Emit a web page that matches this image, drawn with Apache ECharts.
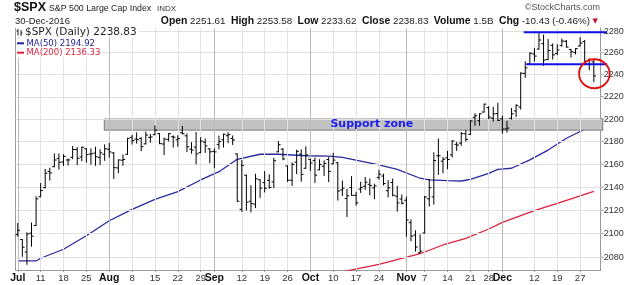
<!DOCTYPE html>
<html><head><meta charset="utf-8">
<script src="https://cdn.jsdelivr.net/npm/echarts@6/dist/echarts.min.js"></script>
<style>html,body{margin:0;padding:0;background:#fff}#c{width:640px;height:285px}</style>
</head><body><div id="c"></div>
<script>
// ---- data ----
const dates = [
'2016-07-01','2016-07-05','2016-07-06','2016-07-07','2016-07-08','2016-07-11','2016-07-12','2016-07-13','2016-07-14','2016-07-15','2016-07-18','2016-07-19','2016-07-20','2016-07-21','2016-07-22','2016-07-25','2016-07-26','2016-07-27','2016-07-28','2016-07-29',
'2016-08-01','2016-08-02','2016-08-03','2016-08-04','2016-08-05','2016-08-08','2016-08-09','2016-08-10','2016-08-11','2016-08-12','2016-08-15','2016-08-16','2016-08-17','2016-08-18','2016-08-19','2016-08-22','2016-08-23','2016-08-24','2016-08-25','2016-08-26','2016-08-29','2016-08-30','2016-08-31',
'2016-09-01','2016-09-02','2016-09-06','2016-09-07','2016-09-08','2016-09-09','2016-09-12','2016-09-13','2016-09-14','2016-09-15','2016-09-16','2016-09-19','2016-09-20','2016-09-21','2016-09-22','2016-09-23','2016-09-26','2016-09-27','2016-09-28','2016-09-29','2016-09-30',
'2016-10-03','2016-10-04','2016-10-05','2016-10-06','2016-10-07','2016-10-10','2016-10-11','2016-10-12','2016-10-13','2016-10-14','2016-10-17','2016-10-18','2016-10-19','2016-10-20','2016-10-21','2016-10-24','2016-10-25','2016-10-26','2016-10-27','2016-10-28','2016-10-31',
'2016-11-01','2016-11-02','2016-11-03','2016-11-04','2016-11-07','2016-11-08','2016-11-09','2016-11-10','2016-11-11','2016-11-14','2016-11-15','2016-11-16','2016-11-17','2016-11-18','2016-11-21','2016-11-22','2016-11-23','2016-11-25','2016-11-28','2016-11-29','2016-11-30',
'2016-12-01','2016-12-02','2016-12-05','2016-12-06','2016-12-07','2016-12-08','2016-12-09','2016-12-12','2016-12-13','2016-12-14','2016-12-15','2016-12-16','2016-12-19','2016-12-20','2016-12-21','2016-12-22','2016-12-23','2016-12-27','2016-12-28','2016-12-29','2016-12-30'];

const open = [
2099.34,2095.05,2084.43,2100.42,2106.97,2131.72,2139.50,2153.81,2157.88,2165.13,2162.04,2163.79,2166.10,2172.91,2166.47,2173.71,2168.97,2169.81,2166.05,2168.83,
2173.15,2169.94,2156.81,2163.51,2168.79,2183.76,2182.24,2182.81,2177.97,2183.74,2186.08,2187.02,2177.84,2181.90,2184.24,2181.58,2187.81,2185.09,2173.29,2175.10,2170.19,2179.45,2173.56,
2171.33,2177.49,2181.61,2185.17,2182.76,2169.08,2120.86,2150.47,2127.86,2125.36,2146.48,2143.99,2145.94,2144.58,2170.94,2173.29,2158.54,2146.04,2161.85,2168.90,2156.51,
2164.33,2163.37,2155.15,2158.22,2164.19,2160.39,2161.35,2137.67,2130.26,2139.68,2132.95,2138.31,2140.81,2142.51,2139.43,2148.50,2149.72,2136.97,2144.06,2132.23,2129.78,
2128.68,2109.43,2098.80,2083.79,2100.59,2129.92,2131.56,2167.49,2162.71,2165.64,2168.29,2177.53,2178.61,2186.85,2186.43,2201.56,2198.55,2206.27,2210.21,2200.76,2204.97,
2200.17,2191.12,2200.65,2207.26,2210.72,2241.13,2249.73,2258.83,2263.32,2268.35,2253.77,2266.81,2259.24,2266.50,2270.54,2262.93,2260.25,2266.23,2270.23,2249.50,2251.61];

const high = [
2108.71,2095.05,2100.72,2109.08,2131.71,2143.16,2155.40,2156.45,2168.99,2169.05,2168.35,2164.63,2175.63,2174.56,2175.11,2173.71,2173.54,2174.98,2172.85,2177.09,
2178.29,2170.20,2163.79,2168.19,2182.87,2185.44,2187.66,2183.41,2188.45,2186.28,2193.81,2187.02,2183.08,2187.03,2185.00,2185.15,2193.42,2186.66,2179.00,2187.94,2183.48,2182.27,2173.79,
2173.56,2184.87,2186.57,2187.87,2184.94,2169.08,2163.30,2150.47,2141.33,2151.31,2146.48,2153.61,2150.80,2165.11,2179.99,2173.75,2158.54,2161.13,2172.40,2172.67,2175.30,
2164.33,2165.46,2163.95,2162.93,2165.86,2169.60,2161.56,2145.36,2138.19,2149.19,2135.61,2144.38,2148.44,2147.18,2142.63,2154.79,2151.44,2145.73,2147.13,2140.72,2133.25,
2131.45,2111.76,2102.56,2099.07,2132.00,2146.87,2170.10,2182.30,2165.92,2171.36,2180.84,2179.22,2188.06,2189.89,2198.70,2204.80,2204.72,2213.35,2211.14,2210.46,2214.10,
2202.60,2197.95,2209.42,2212.78,2241.63,2251.69,2259.80,2264.03,2277.53,2276.20,2272.12,2268.05,2267.47,2272.56,2271.23,2263.18,2263.79,2273.82,2271.31,2254.51,2253.58];

const low = [
2097.90,2080.86,2074.02,2089.39,2106.97,2131.72,2139.50,2146.21,2157.88,2155.79,2159.07,2159.40,2164.89,2159.75,2163.24,2161.95,2160.18,2159.07,2159.74,2163.49,
2166.21,2147.58,2152.56,2159.07,2168.79,2177.85,2178.61,2172.00,2177.97,2179.42,2186.08,2178.15,2168.50,2180.46,2175.13,2175.96,2186.80,2171.25,2169.74,2160.39,2170.19,2170.41,2161.35,
2157.09,2173.59,2175.10,2179.07,2177.49,2127.81,2119.12,2120.27,2118.62,2122.36,2131.20,2135.91,2139.17,2139.57,2170.94,2163.97,2145.04,2141.55,2151.79,2145.20,2156.51,
2154.77,2144.01,2155.15,2150.28,2144.85,2160.39,2128.84,2132.77,2114.72,2132.98,2124.43,2135.49,2138.15,2133.44,2130.09,2146.91,2141.93,2131.59,2132.52,2119.36,2125.53,
2097.85,2094.00,2085.23,2083.79,2100.59,2123.56,2125.35,2151.17,2152.49,2156.08,2166.38,2172.20,2176.65,2180.38,2186.43,2194.51,2194.51,2206.27,2200.36,2198.15,2198.81,
2187.44,2188.37,2199.97,2202.21,2208.93,2237.57,2249.23,2252.37,2263.32,2248.44,2253.77,2254.24,2258.21,2266.14,2265.15,2256.08,2258.84,2266.15,2249.11,2244.56,2233.62];

const close = [
2102.95,2088.55,2099.73,2097.90,2129.90,2137.16,2152.14,2152.43,2163.75,2161.74,2166.89,2163.78,2173.02,2165.17,2175.03,2168.48,2169.18,2166.58,2170.06,2173.60,
2170.84,2157.03,2163.79,2164.25,2182.87,2180.89,2181.74,2175.49,2185.79,2184.05,2190.15,2178.15,2182.22,2187.02,2183.87,2182.64,2186.90,2175.44,2172.47,2169.04,2180.38,2176.12,2170.95,
2170.86,2179.98,2186.48,2186.16,2181.30,2127.81,2159.04,2127.02,2125.77,2147.26,2139.16,2139.12,2139.76,2163.12,2177.18,2164.69,2146.10,2159.93,2171.37,2151.13,2168.27,
2161.20,2150.49,2159.73,2160.77,2153.74,2163.66,2136.73,2139.18,2132.55,2132.98,2126.50,2139.60,2144.29,2141.34,2141.16,2151.33,2143.16,2139.43,2133.04,2126.41,2126.15,
2111.72,2097.94,2088.66,2085.18,2131.52,2139.56,2163.26,2167.48,2164.45,2164.20,2180.39,2176.94,2187.12,2181.90,2198.18,2202.94,2204.72,2213.35,2201.72,2204.66,2198.81,
2191.08,2191.95,2204.71,2212.23,2241.35,2246.19,2259.53,2256.96,2271.72,2253.28,2262.03,2258.07,2262.53,2270.76,2265.18,2260.96,2263.79,2268.88,2249.92,2249.26,2238.83];

const ma50Dates  = ['2016-07-01','2016-07-08','2016-07-11','2016-07-18','2016-07-25','2016-08-01','2016-08-08','2016-08-15','2016-08-22','2016-08-29','2016-09-02','2016-09-09','2016-09-16','2016-09-22','2016-09-30','2016-10-07','2016-10-12','2016-10-24','2016-10-28','2016-11-04','2016-11-08','2016-11-14','2016-11-17','2016-11-21','2016-11-28','2016-11-30','2016-12-05','2016-12-09','2016-12-15','2016-12-21','2016-12-30'];
const ma50Values = [2076.9,2076.9,2079.2,2086.8,2098.3,2111.1,2120.9,2129.5,2136.1,2146.3,2153.5,2164.4,2168.8,2168.8,2167.5,2167.2,2166.1,2159.4,2155.6,2147.8,2146.3,2145.7,2145.4,2146.9,2152.1,2155.6,2156.5,2163.8,2172.5,2182.9,2194.92];
const ma200Dates  = ['2016-10-12','2016-10-24','2016-10-31','2016-11-04','2016-11-11','2016-11-18','2016-11-28','2016-12-01','2016-12-12','2016-12-19','2016-12-30'];
const ma200Values = [2067.8,2074.1,2079.0,2083.0,2090.4,2096.1,2104.0,2109.7,2119.7,2126.1,2136.33];

const tickDates  = ['2016-07-01','2016-07-11','2016-07-18','2016-07-25','2016-08-01','2016-08-08','2016-08-15','2016-08-22','2016-08-29','2016-09-01','2016-09-12','2016-09-19','2016-09-26','2016-10-03','2016-10-10','2016-10-17','2016-10-24','2016-11-01','2016-11-07','2016-11-14','2016-11-21','2016-11-28','2016-12-01','2016-12-12','2016-12-19','2016-12-27'];
const tickLabels = ['Jul','11','18','25','Aug','8','15','22','29','Sep','12','19','26','Oct','10','17','24','Nov','7','14','21','28','Dec','12','19','27'];
const yTicks = [2080,2100,2120,2140,2160,2180,2200,2220,2240,2260,2280];

const supportZone = [2190.2, 2200];
const rangeTop = 2278.8, rangeBottom = 2249.4;
const circleDate = '2016-12-30', circleValue = 2240.8;

// ---- chart ----
const yMin = 2069.3, yMax = 2282.8;
const cats = dates.concat(['']);
const tickMap = {}; tickDates.forEach((d,i)=>{tickMap[d]=tickLabels[i];});
const isMonth = l => isNaN(+l);
const showTick = (i, v) => Object.prototype.hasOwnProperty.call(tickMap, v);
const ohlc = dates.map((d,i)=>[i, open[i], close[i], low[i], high[i]]);
const ma50 = ma50Dates.map((d,i)=>[d, ma50Values[i]]);
const ma200 = ma200Dates.map((d,i)=>[d, ma200Values[i]]);
const FONT = '"Liberation Sans", Arial, sans-serif';
const VFONT = '"DejaVu Sans", Verdana, sans-serif';

function renderOHLC(params, api){
  const x = api.value(0);
  const o = api.coord([x, api.value(1)]);
  const c = api.coord([x, api.value(2)]);
  const l = api.coord([x, api.value(3)]);
  const h = api.coord([x, api.value(4)]);
  const t = 2.2;
  const st = {stroke:'#000', lineWidth:1};
  return {type:'group', children:[
    {type:'line', shape:{x1:h[0], y1:h[1]-0.5, x2:l[0], y2:l[1]+0.5}, style:st},
    {type:'line', shape:{x1:o[0]-t, y1:o[1], x2:o[0], y2:o[1]}, style:st},
    {type:'line', shape:{x1:c[0], y1:c[1], x2:c[0]+t, y2:c[1]}, style:st}
  ]};
}

const chart = echarts.init(document.getElementById('c'), null, {renderer:'canvas'});
const gridLeft = 15.5, gridRight = 39.3, gridTop = 28, gridBottom = 15;
chart.setOption({
  animation:false,
  grid:{left:gridLeft, right:gridRight, top:gridTop, bottom:gridBottom},
  xAxis:{type:'category', data:cats, boundaryGap:true,
    axisLine:{show:true, lineStyle:{color:'#999'}},
    axisTick:{show:true, alignWithLabel:true, interval:showTick, length:2, lineStyle:{color:'#999'}},
    axisLabel:{interval:showTick, margin:3, hideOverlap:false,
      formatter: v => isMonth(tickMap[v]) ? '{m|'+tickMap[v]+'}' : '{d|'+tickMap[v]+'}',
      rich:{m:{fontWeight:'bold', fontSize:10.5, color:'#111', fontFamily:FONT},
            d:{fontSize:9.5, color:'#333', fontFamily:FONT}}},
    splitLine:{show:false}},
  yAxis:{type:'log', logBase:10, min:yMin, max:yMax, position:'right',
    axisLine:{show:true, lineStyle:{color:'#999'}}, axisTick:{show:false},
    axisLabel:{show:false}, splitLine:{show:false}},
  series:[
    {type:'line', data:[[dates[0], null]], z:1, silent:true, symbol:'none',
      markLine:{silent:true, symbol:['none','none'], animation:false,
        label:{show:false},
        lineStyle:{color:'#e2e2e2', width:1, type:'solid'},
        emphasis:{disabled:true},
        data: yTicks.map(v=>({yAxis:v, label:{show:true, position:'end', formatter:String(v), color:'#333', fontSize:9, fontFamily:FONT, distance:3}}))
          .concat(tickDates.map((d,i)=>({xAxis:d, lineStyle:{color: isMonth(tickLabels[i]) ? '#bcbcbc' : '#e2e2e2', width:1, type:'solid'}})))
      }},
    {type:'line', name:'MA(200)', data:ma200, z:2, symbol:'none', silent:true,
      lineStyle:{color:'#e0203a', width:1.3}},
    {type:'line', name:'MA(50)', data:ma50, z:2, symbol:'none', silent:true,
      lineStyle:{color:'#2a2aa0', width:1.3}},
    {type:'custom', name:'$SPX', renderItem:renderOHLC, data:ohlc, z:5, silent:true,
      encode:{x:0, y:[1,2,3,4]}}
  ]
});

const px = (d, v) => chart.convertToPixel({xAxisIndex:0, yAxisIndex:0}, [d, v]);
const plotRight = 640 - gridRight;
const zTop = px(dates[19], supportZone[1]);
const zBot = px(dates[19], supportZone[0]);
const zLeft = zTop[0] - 0.3;
const textPos = px('2016-10-20', (supportZone[0]+supportZone[1])/2);
const rt = px('2016-12-08', rangeTop);
const rb = px('2016-12-08', rangeBottom);
const cc = px(circleDate, circleValue);

const g = [];
// plot frame left line
g.push({type:'line', shape:{x1:gridLeft, y1:gridTop, x2:gridLeft, y2:285-gridBottom}, style:{stroke:'#999', lineWidth:1}, z:3});
// y tick marks
yTicks.forEach(v=>{ const p = px(dates[0], v); g.push({type:'line', shape:{x1:plotRight, y1:p[1], x2:plotRight+3, y2:p[1]}, style:{stroke:'#999', lineWidth:1}, z:3}); });
// support zone
g.push({type:'rect', shape:{x:zLeft, y:zTop[1], width:plotRight+2 - zLeft, height:zBot[1]-zTop[1]},
  style:{fill:'#c2c2c2', stroke:'#8c8c8c', lineWidth:1.2}, z:4});
g.push({type:'text', x:textPos[0]+2, y:textPos[1], z:6,
  style:{text:'Support zone', font:'bold 11px '+VFONT, fill:'#1c1cf0', align:'center', verticalAlign:'middle'}});
// range lines
g.push({type:'line', shape:{x1:rt[0]-1.5, y1:rt[1], x2:607, y2:rt[1]}, style:{stroke:'#1010e8', lineWidth:2}, z:7});
g.push({type:'line', shape:{x1:rb[0]+1, y1:rb[1], x2:607, y2:rb[1]}, style:{stroke:'#1010e8', lineWidth:2}, z:7});
// circle
g.push({type:'ellipse', shape:{cx:cc[0]+0.5, cy:cc[1], rx:15.3, ry:14.5}, style:{fill:null, stroke:'#e01010', lineWidth:1.8}, z:7});
// header
g.push({type:'text', x:14, y:8, style:{text:'$SPX', font:'bold 12.5px '+FONT, fill:'#111', verticalAlign:'middle'}});
g.push({type:'text', x:49, y:8.5, style:{text:'S&P 500 Large Cap Index', font:'8.8px '+FONT, fill:'#222', verticalAlign:'middle'}});
g.push({type:'text', x:157, y:9, style:{text:'INDX', font:'8px '+FONT, fill:'#333', verticalAlign:'middle'}});
g.push({type:'text', x:15, y:21, style:{text:'30-Dec-2016', font:'9.5px '+FONT, fill:'#222', verticalAlign:'middle'}});
g.push({type:'text', x:598, y:21, style:{
  text:'{b|Open} 2251.61  {b|High} 2253.58  {b|Low} 2233.62  {b|Close} 2238.83  {b|Volume} 1.5B  {b|Chg} -10.43 (-0.46%) {r|▼}',
  font:'9.8px '+FONT, fill:'#222', align:'right', verticalAlign:'middle',
  rich:{b:{fontWeight:'bold', fontSize:10.4, fontFamily:FONT, fill:'#111'}, r:{fontSize:7, fill:'#c01030', fontFamily:VFONT}}}});
g.push({type:'text', x:600, y:7.5, style:{text:'\u00A9StockCharts.com', font:'9px '+FONT, fill:'#555', align:'right', verticalAlign:'middle'}});
// legend (each line on a white background)
g.push({type:'rect', shape:{x:16.5, y:28.5, width:122, height:8.5}, style:{fill:'#fff'}, z:8});
g.push({type:'rect', shape:{x:16.5, y:38.8, width:76, height:8.8}, style:{fill:'#fff'}, z:8});
g.push({type:'rect', shape:{x:16.5, y:48.3, width:81, height:8.8}, style:{fill:'#fff'}, z:8});
g.push({type:'line', shape:{x1:18, y1:29, x2:18, y2:35.5}, style:{stroke:'#222', lineWidth:1}, z:9});
g.push({type:'line', shape:{x1:16.5, y1:31, x2:18, y2:31}, style:{stroke:'#222', lineWidth:1}, z:9});
g.push({type:'line', shape:{x1:21, y1:30, x2:21, y2:36}, style:{stroke:'#222', lineWidth:1}, z:9});
g.push({type:'line', shape:{x1:21, y1:33, x2:22.5, y2:33}, style:{stroke:'#222', lineWidth:1}, z:9});
g.push({type:'text', x:25, y:32.7, z:9, style:{text:'$SPX (Daily) 2238.83', font:'10.5px '+VFONT, fill:'#222', verticalAlign:'middle'}});
g.push({type:'line', shape:{x1:17, y1:43.3, x2:24, y2:43.3}, style:{stroke:'#22229a', lineWidth:2}, z:9});
g.push({type:'text', x:26.5, y:43.3, z:9, style:{text:'MA(50) 2194.92', font:'8.5px '+VFONT, fill:'#22229a', verticalAlign:'middle'}});
g.push({type:'line', shape:{x1:17, y1:52.7, x2:24, y2:52.7}, style:{stroke:'#e0203a', lineWidth:2}, z:9});
g.push({type:'text', x:26.5, y:52.7, z:9, style:{text:'MA(200) 2136.33', font:'8.5px '+VFONT, fill:'#e0203a', verticalAlign:'middle'}});

chart.setOption({graphic:{elements:g}});
</script>
</body></html>
